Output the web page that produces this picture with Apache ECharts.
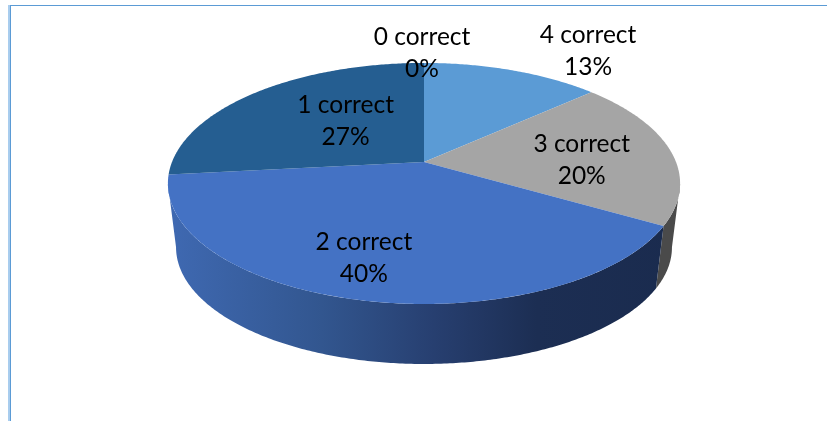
<!DOCTYPE html>
<html>
<head>
<meta charset="utf-8">
<style>html,body{margin:0;padding:0;background:#fff}#c{width:827px;height:421px}</style>
<script src="https://cdn.jsdelivr.net/npm/echarts@6/dist/echarts.min.js"></script>
</head>
<body>
<div id="c"></div>
<script>
var categories = ['4 correct', '3 correct', '2 correct', '1 correct', '0 correct'];
var counts = [2, 3, 6, 4, 0];
var topColors = ['#5b9bd5', '#a5a5a5', '#4472c4', '#255e91', '#4a7ebb'];
var wallStops = [
  [[0, '#4a7fb5'], [1, '#2a4f75']],
  [[0, '#4a4a4a'], [1, '#4a4a4a']],
  [[0, '#3f69b2'], [0.3, '#32568f'], [0.52, '#273f70'], [0.72, '#1c2e53'], [1, '#1a2b4e']],
  [[0, '#1e4c76'], [1, '#1e4c76']],
  [[0, '#333'], [1, '#333']]
];
var labelNudges = [[108, -53], [9, 5], [-25, 19.5], [26.5, 3], [-2, -46]];

var CX = 424, K = 0.178;
var TOP = {y: 162, a: 252, b: 116.7};
var LOW = {y: 226.5, a: 244, b: 113};
var total = counts.reduce(function (s, v) { return s + v; }, 0);
var FRONT_START = Math.acos(-K), FRONT_END = Math.PI * 2 - FRONT_START;

function startAngle(i) {
  var s = 0;
  for (var j = 0; j < i; j++) s += counts[j];
  return s / total * Math.PI * 2;
}
function project(face, r, t) {
  var u = r * Math.sin(t), v = -r * Math.cos(t), w = 1 - K * v;
  return [CX + face.a * u / w, face.y + face.b * v / w];
}
function arc(face, a0, a1) {
  var n = Math.max(2, Math.ceil((a1 - a0) / 0.01)), pts = [];
  for (var i = 0; i <= n; i++) pts.push(project(face, 1, a0 + (a1 - a0) * i / n));
  return pts;
}

var data = counts.map(function (v, i) { return [v, i]; });

var option = {
  animation: false,
  backgroundColor: '#ffffff',
  graphic: [
    {type: 'line', z: 0, shape: {x1: 9, y1: 5.5, x2: 827, y2: 5.5}, style: {stroke: '#5b9bd5', lineWidth: 1}},
    {type: 'line', z: 0, shape: {x1: 9, y1: 5, x2: 9, y2: 421}, style: {stroke: '#a9cdee', lineWidth: 2}},
    {type: 'line', z: 0, shape: {x1: 10.5, y1: 5, x2: 10.5, y2: 421}, style: {stroke: '#5b9bd5', lineWidth: 1}}
  ],
  series: [
    {
      type: 'custom', coordinateSystem: 'none', z: 2, silent: true, data: data,
      renderItem: function (params, api) {
        var i = api.value(1), v = api.value(0);
        var a0 = Math.max(startAngle(i), FRONT_START);
        var a1 = Math.min(startAngle(i) + v / total * Math.PI * 2, FRONT_END);
        if (!v || a1 <= a0) return null;
        var pts = arc(TOP, a0, a1).concat(arc(LOW, a0, a1).reverse());
        return {
          type: 'polygon', shape: {points: pts},
          style: {fill: new echarts.graphic.LinearGradient(168, 0, 680, 0,
            wallStops[i].map(function (s) { return {offset: s[0], color: s[1]}; }), true)}
        };
      }
    },
    {
      type: 'custom', coordinateSystem: 'none', z: 3, silent: true, data: data,
      renderItem: function (params, api) {
        var i = api.value(1), v = api.value(0);
        if (!v) return null;
        var a0 = startAngle(i), a1 = a0 + v / total * Math.PI * 2;
        var pts = [project(TOP, 0, 0)].concat(arc(TOP, a0, a1));
        return {type: 'polygon', shape: {points: pts}, style: {fill: topColors[i]}};
      }
    },
    {
      type: 'custom', coordinateSystem: 'none', z: 4, silent: true, data: data,
      renderItem: function (params, api) {
        var i = api.value(1), v = api.value(0);
        var mid = startAngle(i) + v / total * Math.PI;
        var p = project(TOP, 0.6, mid);
        return {
          type: 'text',
          x: p[0] + labelNudges[i][0], y: p[1] + labelNudges[i][1],
          style: {
            text: categories[i] + '\n' + Math.round(v / total * 100) + '%',
            fill: '#000', font: '24.5px Lato', lineHeight: 32,
            align: 'center', verticalAlign: 'middle'
          }
        };
      }
    }
  ]
};
echarts.init(document.getElementById('c'), null, {renderer: 'canvas'}).setOption(option);
</script>
</body>
</html>
